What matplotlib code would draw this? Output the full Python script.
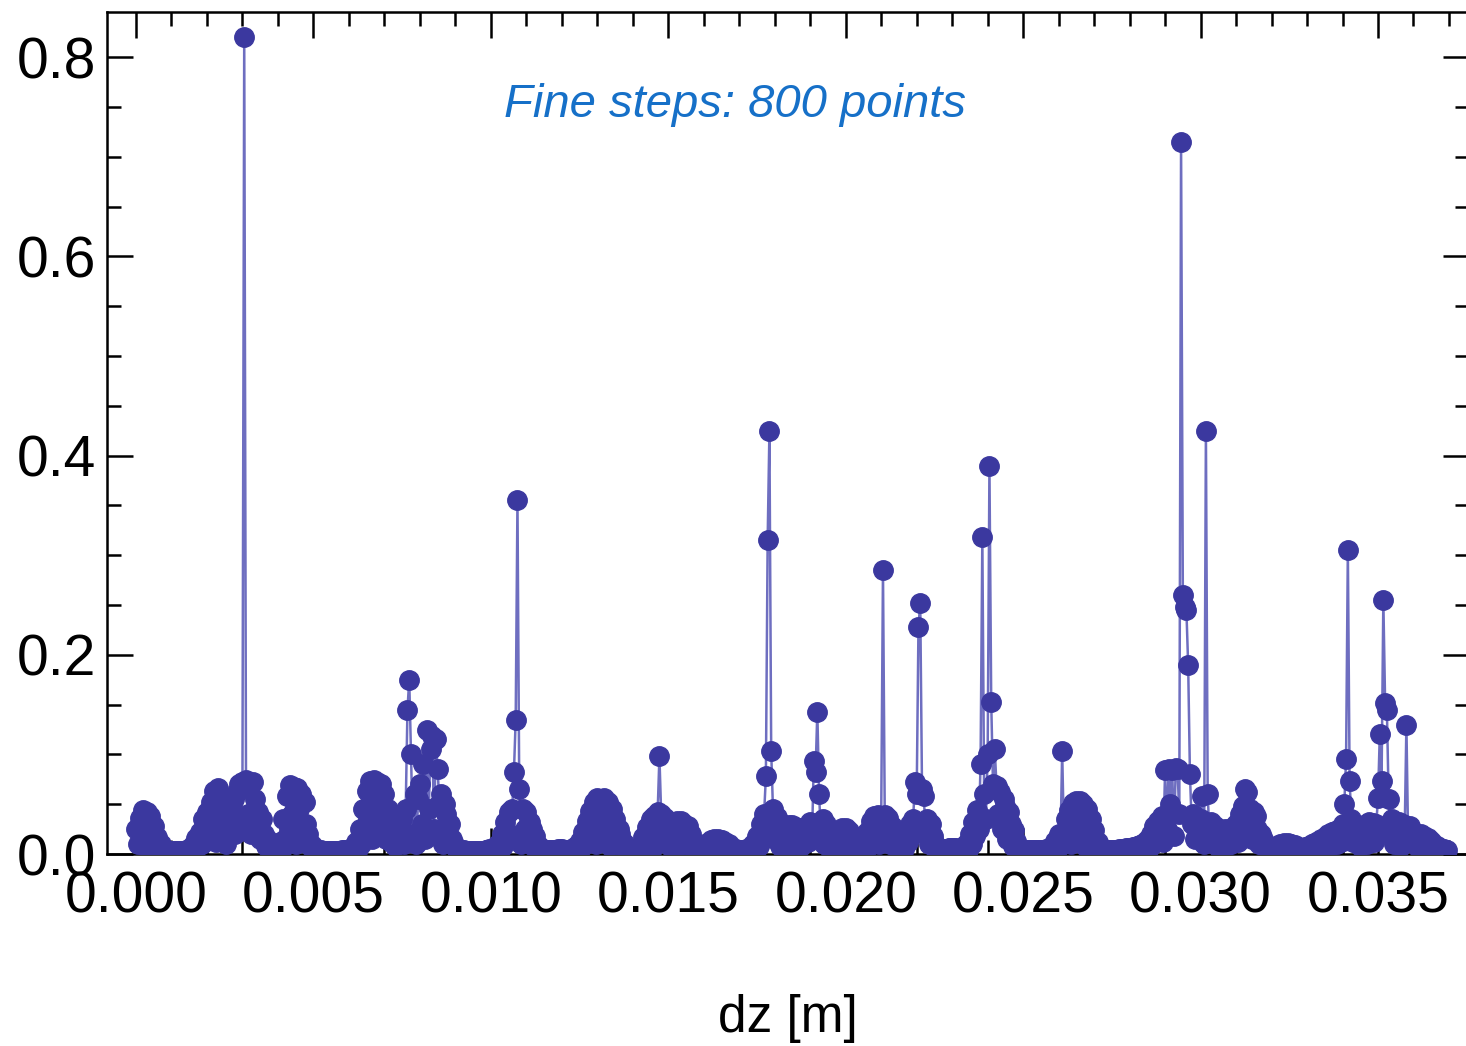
"""Amplitude vs. dz scan on the fine step grid, drawn as joined points."""

import numpy as np
import matplotlib
matplotlib.use("Agg")
import matplotlib.pyplot as plt
from matplotlib.ticker import MultipleLocator, FormatStrFormatter

plt.rcParams["font.family"] = ["Liberation Sans", "DejaVu Sans"]

DZ_STEP = 5e-5  # m, fine step
# amplitude per step (x 1e-3), one row per 1 mm of dz
AMP_ROWS = [
    [25, 10, 36, 22, 44, 8, 42, 30, 38, 15, 28, 5, 17, 9, 10, 4, 5, 3, 3, 3],
    [3, 3, 3, 3, 3, 3, 3, 3, 4, 4, 5, 3, 9, 5, 16, 8, 22, 10, 35, 15],
    [42, 20, 52, 30, 63, 12, 66, 40, 55, 25, 50, 10, 44, 30, 40, 55, 20, 62, 70, 35],
    [72, 820, 74, 40, 70, 20, 72, 55, 30, 42, 15, 35, 20, 8, 15, 11, 4, 6, 4, 4],
    [6, 12, 3, 35, 15, 58, 25, 69, 40, 67, 10, 66, 45, 60, 20, 52, 30, 20, 8, 9],
    [6, 5, 4, 4, 4, 3, 3, 3, 3, 3, 3, 3, 3, 3, 3, 3, 4, 4, 4, 4],
    [4, 5, 6, 8, 12, 5, 25, 10, 45, 20, 63, 35, 73, 15, 74, 50, 72, 25, 70, 40],
    [60, 15, 45, 28, 12, 20, 8, 22, 14, 28, 35, 10, 45, 145, 175, 100, 20, 60, 10, 55],
    [70, 30, 90, 15, 125, 45, 105, 118, 25, 115, 85, 50, 60, 10, 50, 40, 20, 30, 15, 10],
    [7, 5, 4, 4, 4, 4, 3, 3, 3, 3, 3, 3, 3, 3, 3, 3, 3, 4, 4, 5],
    [5, 5, 6, 8, 10, 4, 20, 8, 32, 15, 42, 20, 45, 82, 135, 355, 65, 10, 45, 25],
    [42, 15, 32, 25, 8, 18, 4, 8, 5, 4, 4, 4, 4, 4, 4, 4, 4, 4, 5, 5],
    [5, 4, 4, 4, 4, 5, 5, 6, 8, 4, 13, 6, 22, 10, 33, 15, 43, 20, 52, 10],
    [56, 30, 55, 15, 56, 40, 52, 8, 45, 25, 35, 12, 25, 20, 8, 11, 5, 4, 4, 4],
    [4, 4, 5, 6, 8, 4, 17, 8, 27, 12, 35, 5, 38, 20, 42, 98, 40, 15, 36, 10],
    [30, 18, 5, 32, 20, 33, 8, 33, 25, 30, 12, 28, 15, 20, 5, 11, 3, 5, 5, 6],
    [7, 4, 11, 6, 14, 8, 15, 4, 15, 10, 14, 5, 12, 8, 10, 4, 6, 5, 5, 4],
    [4, 4, 4, 4, 5, 5, 6, 8, 10, 4, 18, 8, 30, 15, 40, 78, 315, 425, 103, 45],
    [15, 37, 25, 8, 30, 20, 28, 5, 29, 18, 29, 10, 27, 20, 25, 8, 26, 15, 28, 12],
    [32, 15, 93, 82, 143, 60, 20, 35, 10, 30, 25, 5, 18, 10, 18, 5, 23, 12, 26, 15],
    [26, 8, 23, 15, 18, 5, 15, 10, 14, 5, 16, 10, 22, 8, 33, 15, 38, 22, 39, 10],
    [38, 285, 39, 20, 36, 10, 28, 15, 18, 5, 14, 8, 15, 5, 22, 12, 30, 18, 35, 72],
    [60, 228, 252, 65, 58, 20, 35, 10, 30, 18, 12, 4, 6, 5, 4, 4, 5, 5, 6, 6],
    [6, 6, 6, 5, 5, 5, 6, 7, 10, 4, 20, 10, 32, 18, 44, 25, 90, 318, 60, 35],
    [100, 390, 153, 70, 105, 68, 40, 62, 25, 55, 48, 15, 42, 30, 8, 24, 13, 5, 4, 4],
    [4, 4, 4, 4, 4, 4, 4, 4, 4, 4, 4, 4, 4, 5, 5, 6, 8, 4, 13, 6],
    [20, 8, 103, 15, 35, 25, 44, 10, 51, 30, 53, 18, 53, 40, 50, 8, 45, 25, 35, 12],
    [24, 5, 12, 8, 6, 5, 4, 4, 4, 4, 4, 4, 4, 4, 5, 5, 5, 5, 6, 6],
    [6, 6, 7, 7, 8, 8, 9, 10, 11, 12, 14, 6, 20, 10, 28, 15, 33, 20, 38, 12],
    [84, 25, 85, 50, 84, 18, 86, 85, 40, 715, 260, 248, 245, 190, 80, 30, 40, 15, 32, 20],
    [35, 58, 10, 425, 60, 20, 32, 12, 28, 8, 25, 15, 24, 6, 25, 14, 25, 10, 22, 25],
    [30, 12, 40, 20, 48, 65, 62, 30, 45, 15, 42, 38, 25, 10, 20, 15, 8, 10, 6, 7],
    [5, 6, 7, 8, 9, 10, 4, 11, 6, 11, 5, 10, 6, 9, 8, 5, 6, 6, 6, 7],
    [7, 8, 9, 10, 11, 5, 13, 8, 15, 6, 17, 10, 20, 8, 22, 12, 23, 10, 25, 12],
    [30, 50, 95, 305, 73, 35, 12, 28, 20, 27, 8, 28, 15, 30, 10, 32, 18, 31, 12, 30],
    [56, 120, 73, 255, 152, 145, 55, 20, 35, 10, 30, 15, 32, 8, 30, 18, 130, 12, 28, 20],
    [22, 10, 20, 5, 20, 12, 18, 6, 16, 10, 13, 5, 9, 8, 7, 6, 5, 5, 4, 4],
]
NOTE = "Fine steps: 800 points"
X_LABEL = "dz [m]"

POINT_COLOR = "#3b389f"
LINE_COLOR = "#6e6ec0"


def plot_scan(dz, amp):
    fig = plt.figure(figsize=(14.66, 10.46), dpi=100)
    ax = fig.add_axes([107 / 1466, 192 / 1046, 1362 / 1466, 842 / 1046])

    # joining line underneath, points on top
    ax.plot(dz, amp, color=LINE_COLOR, lw=1.8, zorder=2)
    ax.plot(dz, amp, ls="none", marker="o", ms=14, color=POINT_COLOR,
            mec=POINT_COLOR, zorder=3)

    ax.set_xlim(-0.000817, 0.037564)
    ax.set_ylim(0, 0.8454)

    ax.xaxis.set_major_locator(MultipleLocator(0.005))
    ax.xaxis.set_minor_locator(MultipleLocator(0.001))
    ax.yaxis.set_major_locator(MultipleLocator(0.2))
    ax.yaxis.set_minor_locator(MultipleLocator(0.05))
    ax.xaxis.set_major_formatter(FormatStrFormatter("%.3f"))
    ax.yaxis.set_major_formatter(FormatStrFormatter("%.1f"))

    ax.tick_params(which="both", direction="in", top=True, right=True,
                   width=1.8, color="black", labelsize=41)
    ax.tick_params(which="major", length=19)
    ax.tick_params(which="minor", length=10)
    ax.tick_params(axis="x", pad=12)
    ax.tick_params(axis="y", pad=8)
    for sp in ax.spines.values():
        sp.set_linewidth(1.8)

    ax.set_xlabel(X_LABEL, fontsize=37, va="center")
    ax.xaxis.set_label_coords(0.5, -0.195)

    ax.text(0.461, 0.8895, NOTE, transform=ax.transAxes, ha="center",
            va="center", fontsize=34, style="italic", color="#1670c8")

    fig.savefig("out.png", dpi=100)
    plt.close(fig)


def main():
    amp = np.array(AMP_ROWS, dtype=float).ravel() / 1000.0
    dz = np.arange(amp.size) * DZ_STEP
    plot_scan(dz, amp)


if __name__ == "__main__":
    main()
